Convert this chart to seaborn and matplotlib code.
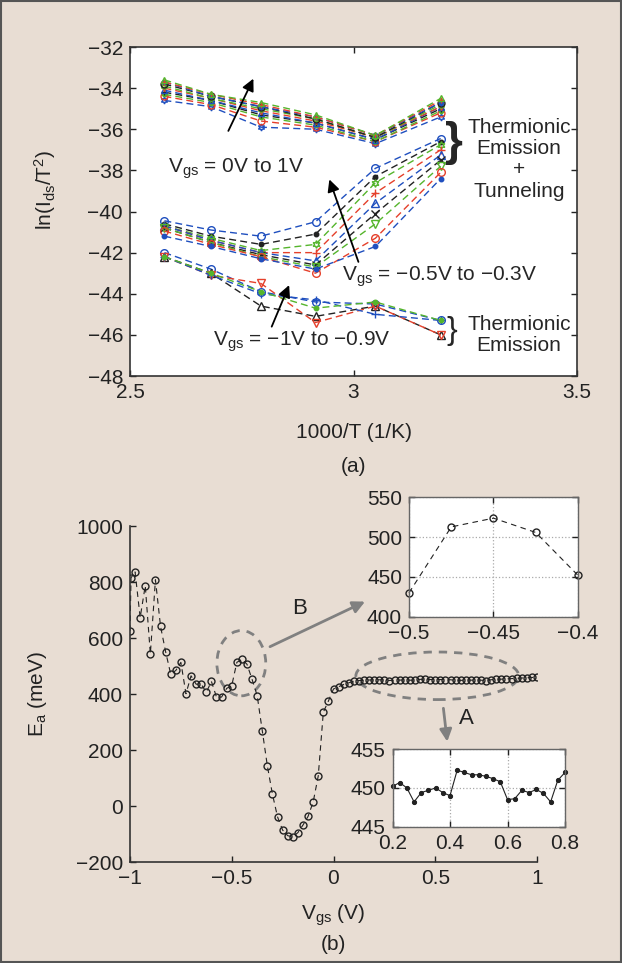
import numpy as np
import matplotlib
matplotlib.use("Agg")
import matplotlib.pyplot as plt
import seaborn as sns
from matplotlib.patches import Ellipse, Rectangle
from matplotlib.ticker import FuncFormatter

# ===============================================
# DATA
# ===============================================

# (a) Arrhenius plot, x = 1000/T
inv_T = [2.577, 2.681, 2.793, 2.915, 3.049, 3.195]

# Vgs = 0V .. 1V (bottom to top)
high_series = [
    [-34.6, -34.9, -35.9, -36.0, -36.7, -35.4],
    [-34.4, -34.8, -35.6, -35.9, -36.6, -35.2],
    [-34.3, -34.7, -35.4, -35.8, -36.6, -35.1],
    [-34.2, -34.6, -35.3, -35.7, -36.5, -35.0],
    [-34.1, -34.6, -35.2, -35.7, -36.5, -34.9],
    [-34.0, -34.5, -35.1, -35.6, -36.4, -34.9],
    [-33.9, -34.5, -35.0, -35.5, -36.4, -34.8],
    [-33.8, -34.4, -34.9, -35.5, -36.4, -34.7],
    [-33.7, -34.4, -34.9, -35.4, -36.3, -34.7],
    [-33.7, -34.3, -34.8, -35.4, -36.3, -34.6],
    [-33.6, -34.3, -34.7, -35.3, -36.3, -34.5],
]

# Vgs = -0.3V .. -0.5V (top to bottom at the right end)
mid_series = [
    [-40.45, -40.9, -41.2, -40.5, -37.9, -36.45],
    [-40.6, -41.2, -41.6, -41.1, -38.3, -36.6],
    [-40.7, -41.3, -41.9, -41.6, -38.6, -36.75],
    [-40.7, -41.4, -42.0, -42.0, -39.1, -37.0],
    [-40.7, -41.4, -42.0, -42.4, -39.6, -37.25],
    [-40.8, -41.5, -42.1, -42.6, -40.1, -37.5],
    [-40.8, -41.5, -42.2, -42.7, -40.6, -37.8],
    [-40.95, -41.6, -42.2, -43.0, -41.3, -38.1],
    [-41.2, -41.7, -42.3, -42.8, -41.7, -38.4],
]

# Vgs = -1V .. -0.9V
low_series = [
    [-42.0, -42.8, -43.9, -44.4, -44.5, -45.3],
    [-42.2, -43.0, -44.6, -45.1, -44.6, -46.0],
    [-42.2, -43.1, -43.5, -45.4, -44.6, -46.0],
    [-42.2, -43.1, -44.0, -44.3, -45.0, -45.3],
    [-42.2, -43.0, -43.9, -44.7, -44.4, -45.3],
]

# (b) activation energy vs Vgs
vgs = [-1.0, -0.995, -0.975, -0.95, -0.925, -0.9, -0.875, -0.85, -0.825, -0.8,
       -0.775, -0.75, -0.725, -0.7, -0.675, -0.65, -0.625, -0.6, -0.575, -0.55,
       -0.525, -0.5, -0.475, -0.45, -0.425, -0.4, -0.375, -0.35, -0.325, -0.3,
       -0.275, -0.25, -0.225, -0.2, -0.175, -0.15, -0.125, -0.1, -0.075, -0.05,
       -0.025, 0.0, 0.025, 0.05, 0.075, 0.1, 0.125, 0.15, 0.175, 0.2,
       0.225, 0.25, 0.275, 0.3, 0.325, 0.35, 0.375, 0.4, 0.425, 0.45,
       0.475, 0.5, 0.525, 0.55, 0.575, 0.6, 0.625, 0.65, 0.675, 0.7,
       0.725, 0.75, 0.775, 0.8, 0.825, 0.85, 0.875, 0.9, 0.925, 0.95,
       0.975, 1.0]
ea = [625, 815, 836, 673, 787, 543, 808, 642, 551, 471,
      484, 513, 401, 465, 435, 435, 406, 445, 389, 389,
      420, 430, 513, 524, 506, 452, 394, 269, 143, 42,
      -39, -86, -106, -110, -95, -68, -37, 14, 107, 335,
      375, 418, 426, 434, 440, 446, 448, 449, 450, 450.2,
      450.7, 450.0, 448.2, 449.4, 449.7, 450.0, 449.4, 449.0, 452.3, 452.0,
      451.7, 451.7, 451.5, 451.2, 450.8, 448.5, 448.6, 449.7, 449.4, 449.8,
      449.3, 448.2, 451.0, 452.0, 453, 454, 455, 456, 457, 458,
      459, 460]

# inset B
vgs_b = [-0.5, -0.475, -0.45, -0.425, -0.4]
ea_b = [430, 513, 524, 506, 452]

# inset A
vgs_a = [0.2, 0.225, 0.25, 0.275, 0.3, 0.325, 0.35, 0.375, 0.4, 0.425,
         0.45, 0.475, 0.5, 0.525, 0.55, 0.575, 0.6, 0.625, 0.65, 0.675,
         0.7, 0.725, 0.75, 0.775, 0.8]
ea_a = [450.2, 450.7, 450.0, 448.2, 449.4, 449.7, 450.0, 449.4, 449.0, 452.3,
        452.0, 451.7, 451.7, 451.5, 451.2, 450.8, 448.5, 448.6, 449.7, 449.4,
        449.8, 449.3, 448.2, 451.0, 452.0]

# ===============================================
# STYLE
# ===============================================

sns.set_theme(style="white")
plt.rcParams["font.family"] = ["Liberation Sans", "DejaVu Sans"]
plt.rcParams["mathtext.fontset"] = "custom"
plt.rcParams["mathtext.rm"] = "Liberation Sans"
plt.rcParams["mathtext.it"] = "Liberation Sans:italic"
plt.rcParams["mathtext.default"] = "rm"
plt.rcParams["axes.unicode_minus"] = True

BG = "#e8ddd3"
BLUE, GREEN, RED, BLACK = "#1f4fbf", "#55b52c", "#e5402b", "#222222"
FS = 15
DASH = (0, (5, 3))

W, H = 622, 963
fig = plt.figure(figsize=(W / 100, H / 100), dpi=100)
fig.patch.set_facecolor(BG)


def box(l, t, r, b):
    return [l / W, 1 - b / H, (r - l) / W, (b - t) / H]


def fmt(v, pos):
    return ("%g" % v).replace("-", "\u2212")


def series(ax, x, y, color, marker, ms=5.5, lw=1.0, ls=DASH):
    filled = marker == "."
    sns.lineplot(x=x, y=y, ax=ax, color=color, marker=marker, linestyle=ls,
                 linewidth=lw, markersize=ms if not filled else ms + 1,
                 markeredgecolor=color,
                 markerfacecolor=color if filled else "none",
                 markeredgewidth=1.0, legend=False)


def style_ticks(ax, box_on=True):
    ax.tick_params(direction="in", length=4, width=1, labelsize=FS,
                   colors="#222222", pad=5, top=box_on, right=box_on,
                   bottom=True, left=True)
    for s in ax.spines.values():
        s.set_color("#333333")
        s.set_linewidth(1.2)
    ax.xaxis.set_major_formatter(FuncFormatter(fmt))
    ax.yaxis.set_major_formatter(FuncFormatter(fmt))


STAR = (6, 1, 0)

# ===============================================
# (a)
# ===============================================
ax1 = fig.add_axes(box(130, 47, 577, 376))
ax1.set_facecolor("white")

cyc_cols = [BLUE, RED, GREEN, BLACK]
cyc_marks = [STAR, "o", ".", "+", "^", "v"]
for i, ys in enumerate(high_series):
    series(ax1, inv_T, ys, cyc_cols[i % 4], cyc_marks[i % 6], ms=5)

mid_cols = [BLUE, BLACK, GREEN, RED, BLUE, BLACK, GREEN, RED, BLUE]
mid_marks = ["o", ".", STAR, "+", "^", "x", "v", "o", "."]
for ys, c, m in zip(mid_series, mid_cols, mid_marks):
    series(ax1, inv_T, ys, c, m)

low_cols = [BLUE, BLACK, RED, BLUE, GREEN]
low_marks = ["o", "^", "v", "+", "."]
for ys, c, m in zip(low_series, low_cols, low_marks):
    series(ax1, inv_T, ys, c, m)

ax1.set_xlim(2.5, 3.5)
ax1.set_ylim(-48, -32)
ax1.set_xticks([2.5, 3, 3.5])
ax1.set_yticks(np.arange(-48, -31, 2))
style_ticks(ax1)
ax1.set_xlabel("1000/T (1/K)", fontsize=FS, color="#222222")
ax1.set_ylabel(r"ln(I$_{\rm ds}$/T$^{2}$)", fontsize=FS, color="#222222")
ax1.xaxis.set_label_coords(0.5, -0.143)
ax1.yaxis.set_label_coords(-0.161, 0.565)

arrow_k = dict(arrowstyle="-|>", color="black", lw=1.3, mutation_scale=18,
               shrinkA=0, shrinkB=0)
ax1.annotate("", xy=(2.776, -33.54), xytext=(2.720, -36.08), arrowprops=arrow_k)
ax1.annotate("", xy=(2.946, -38.44), xytext=(3.011, -42.45), arrowprops=arrow_k)
ax1.annotate("", xy=(2.856, -43.58), xytext=(2.817, -45.6), arrowprops=arrow_k)

ax1.text(2.736, -37.9, r"V$_{\rm gs}$ = 0V to 1V", fontsize=FS,
         ha="center", va="center")
ax1.text(2.975, -43.18, "V$_{\\rm gs}$ = \u22120.5V to \u22120.3V", fontsize=FS,
         ha="left", va="center")
ax1.text(2.884, -46.33, "V$_{\\rm gs}$ = \u22121V to \u22120.9V", fontsize=FS,
         ha="center", va="center")

ax1.text(3.224, -36.68, "}", fontsize=33, ha="center", va="center",
         fontweight="bold")
ax1.text(3.370, -37.46, "Thermionic\nEmission\n+\nTunneling", fontsize=FS,
         ha="center", va="center", linespacing=1.15)
ax1.text(3.220, -45.81, "}", fontsize=23, ha="center", va="center")
ax1.text(3.370, -46.02, "Thermionic\nEmission", fontsize=FS,
         ha="center", va="center", linespacing=1.15)

fig.text(353.5 / W, 1 - 466 / H, "(a)", fontsize=FS, ha="center", va="center",
         color="#222222")

# ===============================================
# (b)
# ===============================================
ax2 = fig.add_axes(box(130, 526, 537, 862))
ax2.set_facecolor("none")
series(ax2, vgs, ea, BLACK, "o", ms=5, lw=0.8, ls=(0, (5, 4)))
ax2.set_xlim(-1, 1)
ax2.set_ylim(-200, 1000)
ax2.set_xticks([-1, -0.5, 0, 0.5, 1])
ax2.set_yticks(np.arange(-200, 1001, 200))
style_ticks(ax2, box_on=False)
ax2.spines["top"].set_visible(False)
ax2.spines["right"].set_visible(False)
ax2.set_xlabel(r"V$_{\rm gs}$ (V)", fontsize=FS, color="#222222")
ax2.set_ylabel(r"E$_{\rm a}$ (meV)", fontsize=FS, color="#222222")
ax2.xaxis.set_label_coords(0.5, -0.122)
ax2.yaxis.set_label_coords(-0.2, 0.5)

GRAY = "#808080"
ax2.add_patch(Ellipse((-0.453, 510), 0.24, 233, fill=False, edgecolor=GRAY,
                      lw=2, linestyle=(0, (3, 2.5))))
ax2.add_patch(Ellipse((0.51, 465), 0.80, 170, fill=False, edgecolor=GRAY,
                      lw=2, linestyle=(0, (3, 2.5))))
arrow_g = dict(arrowstyle="-|>", color=GRAY, lw=2, mutation_scale=18,
               shrinkA=0, shrinkB=0)
ax2.annotate("", xy=(0.155, 730), xytext=(-0.312, 569), arrowprops=arrow_g)
ax2.annotate("", xy=(0.559, 230), xytext=(0.540, 349), arrowprops=arrow_g)
ax2.text(-0.168, 706, "B", fontsize=16, ha="center", va="center",
         color="#222222")
ax2.text(0.651, 311, "A", fontsize=16, ha="center", va="center",
         color="#222222")

fig.text(333.5 / W, 1 - 944 / H, "(b)", fontsize=FS, ha="center", va="center",
         color="#222222")

# inset B
axb = fig.add_axes(box(409, 497.5, 578, 616.7))
axb.set_facecolor("white")
series(axb, vgs_b, ea_b, BLACK, "o", ms=5, lw=0.8, ls=(0, (5, 4)))
axb.set_xlim(-0.5, -0.4)
axb.set_ylim(400, 550)
axb.set_xticks([-0.5, -0.45, -0.4])
axb.set_yticks([400, 450, 500, 550])
axb.grid(True, linestyle=":", color="#aaaaaa", lw=0.9)
style_ticks(axb)
for s in axb.spines.values():
    s.set_color("#666666")
    s.set_linewidth(1.0)
for ln in axb.lines:
    ln.set_clip_on(False)

# inset A
axa = fig.add_axes(box(392.5, 749.3, 565, 826.6))
axa.set_facecolor("white")
sns.lineplot(x=vgs_a, y=ea_a, ax=axa, color=BLACK, marker="o", linewidth=0.8,
             markersize=3, markeredgecolor=BLACK, markerfacecolor=BLACK,
             legend=False)
axa.set_xlim(0.2, 0.8)
axa.set_ylim(445, 455)
axa.set_xticks([0.2, 0.4, 0.6, 0.8])
axa.set_yticks([445, 450, 455])
axa.grid(True, linestyle=":", color="#aaaaaa", lw=0.9)
style_ticks(axa)
for s in axa.spines.values():
    s.set_color("#666666")
    s.set_linewidth(1.0)
for ln in axa.lines:
    ln.set_clip_on(False)

# figure frame
fig.patches.append(Rectangle((0.001, 0.001), 0.998, 0.998, transform=fig.transFigure,
                             fill=False, edgecolor="#555555", lw=1.5))

fig.savefig("out.png", dpi=100, facecolor=BG)
